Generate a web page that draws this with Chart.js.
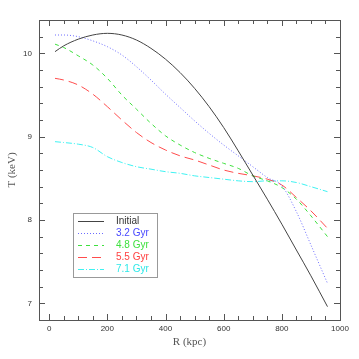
<!DOCTYPE html>
<html>
<head>
<meta charset="utf-8">
<script src="https://cdn.jsdelivr.net/npm/chart.js@4/dist/chart.umd.min.js"></script>
<style>
  html, body { margin: 0; padding: 0; background: #fff; }
  #wrap { width: 359px; height: 359px; }
</style>
</head>
<body>
<div id="wrap"><canvas id="tempChart"></canvas></div>
<script>
// radius in kpc
const radius = [20, 50, 100, 150, 200, 250, 300, 350, 400, 450, 500, 550, 600, 650, 700, 750, 800, 850, 900, 957];

// temperature (keV) for each snapshot
const initialT = [10.02, 10.09, 10.17, 10.22, 10.24, 10.22, 10.16, 10.06, 9.93, 9.77, 9.58, 9.36, 9.11, 8.83, 8.54, 8.25, 7.95, 7.64, 7.33, 6.96];
const t32 = [10.22, 10.22, 10.20, 10.15, 10.08, 9.98, 9.84, 9.68, 9.51, 9.35, 9.19, 9.04, 8.90, 8.77, 8.64, 8.51, 8.41, 8.10, 7.70, 7.24];
const t48 = [10.11, 10.07, 9.97, 9.86, 9.70, 9.50, 9.33, 9.16, 9.01, 8.90, 8.81, 8.74, 8.68, 8.62, 8.53, 8.47, 8.39, 8.25, 8.05, 7.80];
const t55 = [9.70, 9.68, 9.62, 9.51, 9.36, 9.20, 9.05, 8.93, 8.84, 8.77, 8.72, 8.66, 8.60, 8.56, 8.53, 8.49, 8.42, 8.27, 8.11, 7.90];
const t71 = [8.94, 8.93, 8.91, 8.87, 8.76, 8.69, 8.64, 8.61, 8.58, 8.56, 8.53, 8.51, 8.49, 8.47, 8.46, 8.47, 8.47, 8.45, 8.40, 8.34];

const seriesLabels = ["Initial", "3.2 Gyr", "4.8 Gyr", "5.5 Gyr", "7.1 Gyr"];
const xTicks = [0, 200, 400, 600, 800, 1000];
const yTicks = [7, 8, 9, 10];

function pts(arr) {
    return radius.map((r, i) => ({ x: r, y: arr[i] }));
}

// inward ticks on all four sides + frame
const frameTicks = {
    id: 'frameTicks',
    afterDraw(chart) {
        const ctx = chart.ctx;
        const a = chart.chartArea;
        const xs = chart.scales.x, ys = chart.scales.y;
        ctx.save();
        ctx.strokeStyle = '#555';
        ctx.lineWidth = 1;
        ctx.strokeRect(a.left + 0.5, a.top + 0.5, a.right - a.left, a.bottom - a.top);
        ctx.beginPath();
        for (let v = 0; v <= 1000; v += 50) {
            const px = Math.round(xs.getPixelForValue(v)) + 0.5;
            const len = xTicks.includes(v) ? 6 : 4;
            ctx.moveTo(px, a.bottom); ctx.lineTo(px, a.bottom - len);
            ctx.moveTo(px, a.top); ctx.lineTo(px, a.top + len);
        }
        for (let k = 34; k <= 52; k++) {
            const v = k / 5;
            const py = Math.round(ys.getPixelForValue(v)) + 0.5;
            const len = (k % 5 === 0) ? 6 : 4;
            ctx.moveTo(a.left, py); ctx.lineTo(a.left + len, py);
            ctx.moveTo(a.right, py); ctx.lineTo(a.right - len, py);
        }
        ctx.stroke();
        ctx.restore();
    }
};

// legend box inside the plot
const boxLegend = {
    id: 'boxLegend',
    afterDraw(chart, args, opts) {
        const ctx = chart.ctx;
        ctx.save();
        ctx.fillStyle = '#fff';
        ctx.fillRect(opts.x, opts.y, opts.w, opts.h);
        ctx.strokeStyle = '#999';
        ctx.lineWidth = 1;
        ctx.strokeRect(opts.x + 0.5, opts.y + 0.5, opts.w, opts.h);
        ctx.font = '10px "Liberation Sans", Arial, sans-serif';
        ctx.textBaseline = 'middle';
        chart.data.datasets.forEach((ds, i) => {
            const y = Math.round(opts.y + 8 + i * 12.1) + 0.5;
            ctx.strokeStyle = ds.borderColor;
            ctx.setLineDash(ds.borderDash || []);
            ctx.beginPath();
            ctx.moveTo(opts.x + 5, y);
            ctx.lineTo(opts.x + 31, y);
            ctx.stroke();
            ctx.setLineDash([]);
            ctx.fillStyle = ds.textColor;
            ctx.fillText(ds.label, opts.x + 43, y);
        });
        ctx.restore();
    }
};

const ctx = document.getElementById('tempChart').getContext('2d');
new Chart(ctx, {
    type: 'line',
    data: {
        datasets: [
            { label: seriesLabels[0], data: pts(initialT), borderColor: '#444', textColor: '#333', borderDash: [] },
            { label: seriesLabels[1], data: pts(t32), borderColor: '#6b6bff', textColor: '#4848ff', borderDash: [1, 2] },
            { label: seriesLabels[2], data: pts(t48), borderColor: '#3ee03e', textColor: '#3ee03e', borderDash: [4, 4] },
            { label: seriesLabels[3], data: pts(t55), borderColor: '#ff4c4c', textColor: '#ff4040', borderDash: [9, 5] },
            { label: seriesLabels[4], data: pts(t71), borderColor: '#3ff2f2', textColor: '#2ee8e8', borderDash: [6, 2, 1, 2] }
        ]
    },
    options: {
        responsive: true,
        maintainAspectRatio: false,
        animation: false,
        devicePixelRatio: 1,
        layout: { padding: { top: 20, right: 19, left: 0, bottom: 0 } },
        elements: {
            point: { radius: 0 },
            line: { borderWidth: 1, tension: 0.3, cubicInterpolationMode: 'monotone' }
        },
        plugins: {
            legend: { display: false },
            tooltip: { enabled: false },
            boxLegend: { x: 73, y: 213, w: 84, h: 64 }
        },
        scales: {
            x: {
                type: 'linear',
                min: -35,
                max: 1000,
                grid: { display: false, drawTicks: false },
                border: { display: false },
                afterBuildTicks: s => { s.ticks = xTicks.map(v => ({ value: v })); },
                afterFit: s => { s.height = 39; },
                ticks: {
                    padding: 4,
                    maxRotation: 0,
                    color: '#333',
                    callback: v => String(v),
                    font: { family: '"Liberation Sans", Arial, sans-serif', size: 8 }
                },
                title: {
                    display: true,
                    text: 'R (kpc)',
                    color: '#555',
                    font: { family: '"Liberation Serif", serif', size: 11 },
                    padding: { top: 0, bottom: 10 }
                }
            },
            y: {
                type: 'linear',
                min: 6.8,
                max: 10.4,
                grid: { display: false, drawTicks: false },
                border: { display: false },
                afterBuildTicks: s => { s.ticks = yTicks.map(v => ({ value: v })); },
                afterFit: s => { s.width = 39; },
                ticks: {
                    padding: 7,
                    color: '#333',
                    callback: v => String(v),
                    font: { family: '"Liberation Sans", Arial, sans-serif', size: 8 }
                },
                title: {
                    display: true,
                    text: 'T (keV)',
                    color: '#555',
                    font: { family: '"Liberation Serif", serif', size: 11 },
                    padding: { top: 6, bottom: 0 }
                }
            }
        }
    },
    plugins: [frameTicks, boxLegend]
});
</script>
</body>
</html>
